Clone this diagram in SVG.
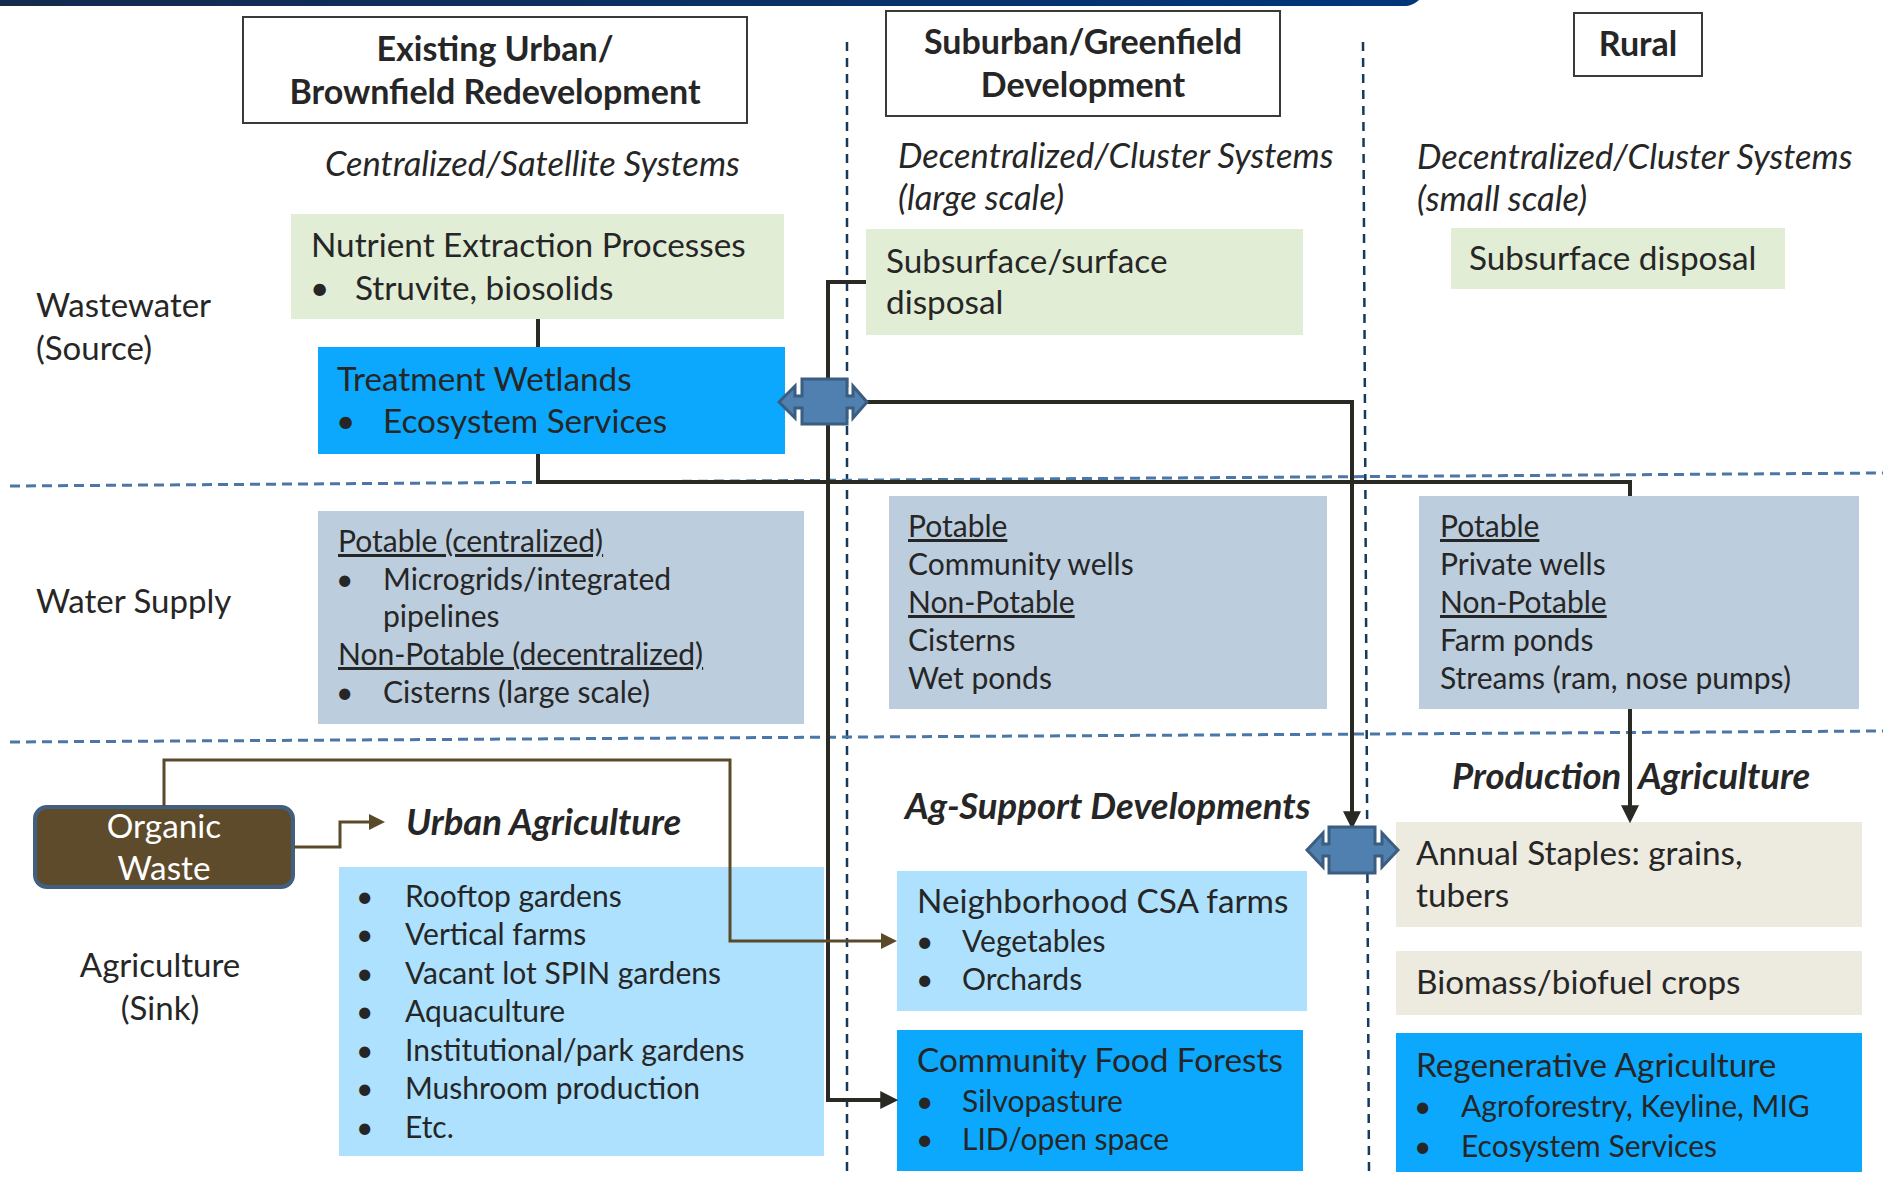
<svg xmlns="http://www.w3.org/2000/svg" width="1883" height="1182" viewBox="0 0 1883 1182">
  <defs>
    <linearGradient id="bannerGrad" x1="0" y1="0" x2="1" y2="0">
      <stop offset="0" stop-color="#142a4e"/>
      <stop offset="1" stop-color="#00367a"/>
    </linearGradient>
    <marker id="arrowDark" markerUnits="userSpaceOnUse" markerWidth="18" markerHeight="18" viewBox="0 0 16 16" refX="6" refY="8" orient="auto">
      <path d="M0,0 L16,8 L0,16 Z" fill="#2a2a25"/>
    </marker>
    <marker id="arrowBrown" markerUnits="userSpaceOnUse" markerWidth="16" markerHeight="16" viewBox="0 0 16 16" refX="6" refY="8" orient="auto">
      <path d="M0,0 L16,8 L0,16 Z" fill="#5b4a2a"/>
    </marker>
  </defs>
  <style>
    text { font-family: Lato, "Liberation Sans", sans-serif; fill: #262626; }
    .hdr { font-weight: bold; font-size: 34px; text-anchor: middle; }
    .sub { font-style: italic; font-size: 34.5px; }
    .sec { font-weight: bold; font-style: italic; font-size: 36.5px; }
    .row { font-size: 33px; }
    .big { font-size: 33.3px; }
    .lst { font-size: 30px; }
    .u { text-decoration: underline; }
    .hbox { fill: #ffffff; stroke: #3a3a3a; stroke-width: 2; }
    .green { fill: #e2edd6; }
    .bright { fill: #0ba8fd; }
    .pale { fill: #ade1fd; }
    .grey { fill: #bccddd; }
    .beige { fill: #edeadf; }
    .hdash { stroke: #4a78a6; stroke-width: 3; stroke-dasharray: 10 6; fill: none; }
    .vdash { stroke: #153a5a; stroke-width: 2.5; stroke-dasharray: 9 7; fill: none; }
    .dark { stroke: #2a2a25; stroke-width: 4; fill: none; }
    .brown { stroke: #5b4a2a; stroke-width: 3; fill: none; }
    .swap { fill: #4f80b0; stroke: #3b5d80; stroke-width: 3; }
  </style>

  <!-- top banner -->
  <path d="M0,0 H1419 C1414,4 1410,6 1404,6 H0 Z" fill="url(#bannerGrad)"/>

  <!-- grid lines -->
  <g id="grid">
    <line class="vdash" x1="847" y1="42" x2="847" y2="1172"/>
    <line class="vdash" x1="1363" y1="42" x2="1369" y2="1172"/>
    <line class="hdash" x1="10" y1="486" x2="1883" y2="473"/>
    <line class="hdash" x1="10" y1="742" x2="1883" y2="731"/>
  </g>

  <!-- column headers -->
  <g id="hdr-urban">
    <rect class="hbox" x="243" y="17" width="504" height="106"/>
    <text class="hdr" x="495" y="61">Existing Urban/</text>
    <text class="hdr" x="495" y="104">Brownfield Redevelopment</text>
  </g>
  <g id="hdr-suburban">
    <rect class="hbox" x="886" y="11" width="394" height="105"/>
    <text class="hdr" x="1083" y="54">Suburban/Greenfield</text>
    <text class="hdr" x="1083" y="97">Development</text>
  </g>
  <g id="hdr-rural">
    <rect class="hbox" x="1574" y="13" width="128" height="63"/>
    <text class="hdr" x="1638" y="56">Rural</text>
  </g>

  <!-- system scale labels -->
  <g id="scale-labels">
    <text class="sub" x="325" y="176">Centralized/Satellite Systems</text>
    <text class="sub" x="898" y="168">Decentralized/Cluster Systems</text>
    <text class="sub" x="898" y="210">(large scale)</text>
    <text class="sub" x="1417" y="169">Decentralized/Cluster Systems</text>
    <text class="sub" x="1417" y="211">(small scale)</text>
  </g>

  <!-- row labels -->
  <g id="row-labels">
    <text class="row" x="36" y="317">Wastewater</text>
    <text class="row" x="36" y="360">(Source)</text>
    <text class="row" x="36" y="613">Water Supply</text>
    <text class="row" x="160" y="977" text-anchor="middle">Agriculture</text>
    <text class="row" x="160" y="1020" text-anchor="middle">(Sink)</text>
  </g>

  <!-- wastewater row -->
  <g id="nutrient-extraction">
    <rect class="green" x="291" y="214" width="493" height="105"/>
    <text class="big" x="311" y="257">Nutrient Extraction Processes</text>
    <text class="big" x="310" y="300">•</text>
    <text class="big" x="355" y="300">Struvite, biosolids</text>
  </g>
  <g id="treatment-wetlands">
    <rect class="bright" x="318" y="347" width="467" height="107"/>
    <text class="big" x="337" y="391">Treatment Wetlands</text>
    <text class="big" x="336" y="433">•</text>
    <text class="big" x="383" y="433">Ecosystem Services</text>
  </g>
  <g id="surface-disposal">
    <rect class="green" x="866" y="229" width="437" height="106"/>
    <text class="big" x="886" y="273">Subsurface/surface</text>
    <text class="big" x="886" y="314">disposal</text>
  </g>
  <g id="subsurface-disposal">
    <rect class="green" x="1451" y="228" width="334" height="61"/>
    <text class="big" x="1469" y="270">Subsurface disposal</text>
  </g>

  <!-- water supply row -->
  <g id="water-urban">
    <rect class="grey" x="318" y="511" width="486" height="213"/>
    <text class="lst u" x="338" y="552">Potable (centralized)</text>
    <text class="lst" x="336" y="590">•</text>
    <text class="lst" x="383" y="590">Microgrids/integrated</text>
    <text class="lst" x="383" y="627">pipelines</text>
    <text class="lst u" x="338" y="665">Non-Potable (decentralized)</text>
    <text class="lst" x="336" y="703">•</text>
    <text class="lst" x="383" y="703">Cisterns (large scale)</text>
  </g>
  <g id="water-suburban">
    <rect class="grey" x="889" y="496" width="438" height="213"/>
    <text class="lst u" x="908" y="537">Potable</text>
    <text class="lst" x="908" y="575">Community wells</text>
    <text class="lst u" x="908" y="613">Non-Potable</text>
    <text class="lst" x="908" y="651">Cisterns</text>
    <text class="lst" x="908" y="689">Wet ponds</text>
  </g>
  <g id="water-rural">
    <rect class="grey" x="1419" y="496" width="440" height="213"/>
    <text class="lst u" x="1440" y="537">Potable</text>
    <text class="lst" x="1440" y="575">Private wells</text>
    <text class="lst u" x="1440" y="613">Non-Potable</text>
    <text class="lst" x="1440" y="651">Farm ponds</text>
    <text class="lst" x="1440" y="689">Streams (ram, nose pumps)</text>
  </g>

  <!-- agriculture row -->
  <g id="organic-waste">
    <rect x="35" y="807" width="258" height="80" rx="12" ry="12" fill="#5e4b2b" stroke="#41607f" stroke-width="4"/>
    <text class="big" x="164" y="838" text-anchor="middle" style="fill:#ffffff">Organic</text>
    <text class="big" x="164" y="880" text-anchor="middle" style="fill:#ffffff">Waste</text>
  </g>
  <g id="urban-agriculture">
    <text class="sec" x="406" y="835">Urban Agriculture</text>
    <rect class="pale" x="339" y="867" width="485" height="289"/>
    <text class="lst" x="356" y="907">•</text>
    <text class="lst" x="405" y="907">Rooftop gardens</text>
    <text class="lst" x="356" y="945">•</text>
    <text class="lst" x="405" y="945">Vertical farms</text>
    <text class="lst" x="356" y="984">•</text>
    <text class="lst" x="405" y="984">Vacant lot SPIN gardens</text>
    <text class="lst" x="356" y="1022">•</text>
    <text class="lst" x="405" y="1022">Aquaculture</text>
    <text class="lst" x="356" y="1061">•</text>
    <text class="lst" x="405" y="1061">Institutional/park gardens</text>
    <text class="lst" x="356" y="1099">•</text>
    <text class="lst" x="405" y="1099">Mushroom production</text>
    <text class="lst" x="356" y="1138">•</text>
    <text class="lst" x="405" y="1138">Etc.</text>
  </g>
  <g id="ag-support">
    <text class="sec" x="905" y="819">Ag-Support Developments</text>
  </g>
  <g id="csa-farms">
    <rect class="pale" x="897" y="871" width="410" height="140"/>
    <text class="big" x="917" y="913">Neighborhood CSA farms</text>
    <text class="lst" x="916" y="952">•</text>
    <text class="lst" x="962" y="952">Vegetables</text>
    <text class="lst" x="916" y="990">•</text>
    <text class="lst" x="962" y="990">Orchards</text>
  </g>
  <g id="food-forests">
    <rect class="bright" x="897" y="1030" width="406" height="141"/>
    <text class="big" x="917" y="1072">Community Food Forests</text>
    <text class="lst" x="916" y="1112">•</text>
    <text class="lst" x="962" y="1112">Silvopasture</text>
    <text class="lst" x="916" y="1150">•</text>
    <text class="lst" x="962" y="1150">LID/open space</text>
  </g>
  <g id="production-agriculture">
    <text class="sec" x="1452" y="789">Production</text>
    <text class="sec" x="1638" y="789">Agriculture</text>
  </g>
  <g id="annual-staples">
    <rect class="beige" x="1396" y="822" width="466" height="105"/>
    <text class="big" x="1416" y="865">Annual Staples: grains,</text>
    <text class="big" x="1416" y="907">tubers</text>
  </g>
  <g id="biomass-crops">
    <rect class="beige" x="1396" y="951" width="466" height="64"/>
    <text class="big" x="1416" y="994">Biomass/biofuel crops</text>
  </g>
  <g id="regenerative-agriculture">
    <rect class="bright" x="1396" y="1033" width="466" height="139"/>
    <text class="big" x="1416" y="1077">Regenerative Agriculture</text>
    <text class="lst" x="1414" y="1117">•</text>
    <text class="lst" x="1461" y="1117">Agroforestry, Keyline, MIG</text>
    <text class="lst" x="1414" y="1157">•</text>
    <text class="lst" x="1461" y="1157">Ecosystem Services</text>
  </g>

  <!-- connectors -->
  <g id="connectors">
    <path class="dark" d="M538,319 V347"/>
    <path class="dark" d="M538,454 V482 H1630 V496"/>
    <path class="dark" d="M1630,709 V812" marker-end="url(#arrowDark)"/>
    <path class="dark" d="M867,402 H1352 V818" marker-end="url(#arrowDark)"/>
    <path class="dark" d="M866,282 H828 V1100 H887" marker-end="url(#arrowDark)"/>
    <path class="brown" d="M164,806 V760 H730 V941 H887" marker-end="url(#arrowBrown)"/>
    <path class="brown" d="M294,847 H340 V822 H375" marker-end="url(#arrowBrown)"/>
  </g>

  <!-- two-way exchange blocks -->
  <g id="exchange-wastewater">
    <path class="swap" d="M779,402 L795,386 L795,396 L802,396 L802,379 L847,379 L847,396 L853,396 L853,386 L867,402 L853,418 L853,408 L847,408 L847,424 L802,424 L802,408 L795,408 L795,418 Z"/>
  </g>
  <g id="exchange-agriculture">
    <path class="swap" d="M1307,850 L1323,833 L1323,844 L1329,844 L1329,827 L1375,827 L1375,844 L1382,844 L1382,833 L1398,850 L1382,867 L1382,856 L1375,856 L1375,873 L1329,873 L1329,856 L1323,856 L1323,867 Z"/>
  </g>
</svg>
